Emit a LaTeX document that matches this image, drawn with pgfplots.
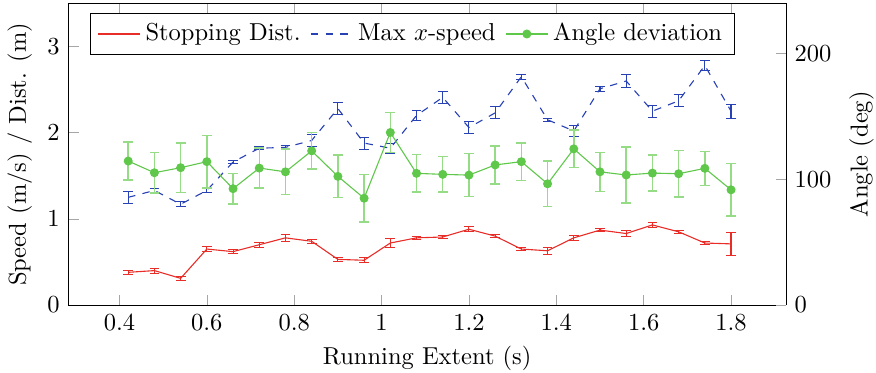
\documentclass[border=0pt]{standalone}
\usepackage{pgfplots}
\pgfplotsset{compat=1.18}
\definecolor{cred}{RGB}{232,45,40}
\definecolor{cblue}{RGB}{40,65,180}
\definecolor{cgreen}{RGB}{95,200,75}
\definecolor{cgreenl}{RGB}{150,220,135}
\begin{document}
\begin{tikzpicture}
\begin{axis}[
  scale only axis, width=292.9pt, height=123.1pt,
  xmin=0.283, xmax=1.926, ymin=0, ymax=3.5,
  axis y line*=left,
  xtick={0.4,0.6,...,1.8},
  ytick={0,1,2,3},
  xticklabels={0.4,0.6,0.8,1,1.2,1.4,1.6,1.8},
  major tick style={gray!70},
  xlabel={Running Extent (s)},
  ylabel={Speed (m/s) / Dist. (m)},
  xlabel style={at={([yshift=-24.1pt]axis description cs:0.5,0)}, anchor=base},
  ylabel style={at={([xshift=-17.3pt]axis description cs:0,0.5)}, anchor=base},
]
\coordinate (bl) at (rel axis cs:0,0);
\coordinate (tr) at (rel axis cs:1,1);
\addplot[color=cred, solid, line width=0.45pt, error bars/.cd, y dir=both, y explicit, error bar style={color=cred, line width=0.45pt}, error mark options={color=cred, rotate=90, mark size=2pt}] table[x=x,y=y,y error=e] {
x y e
0.42 0.38 0.02
0.48 0.40 0.03
0.54 0.31 0.02
0.60 0.65 0.03
0.66 0.62 0.02
0.72 0.70 0.03
0.78 0.78 0.04
0.84 0.74 0.02
0.90 0.53 0.02
0.96 0.52 0.03
1.02 0.72 0.05
1.08 0.78 0.02
1.14 0.79 0.02
1.20 0.88 0.03
1.26 0.80 0.02
1.32 0.65 0.02
1.38 0.63 0.04
1.44 0.78 0.03
1.50 0.87 0.02
1.56 0.83 0.03
1.62 0.93 0.03
1.68 0.85 0.02
1.74 0.72 0.02
1.80 0.71 0.13
};
\addplot[color=cblue, dashed, line width=0.45pt, error bars/.cd, y dir=both, y explicit, error bar style={solid, color=cblue, line width=0.45pt}, error mark options={solid, color=cblue, rotate=90, mark size=2pt}] table[x=x,y=y,y error=e] {
x y e
0.42 1.25 0.07
0.48 1.33 0.02
0.54 1.17 0.03
0.60 1.33 0.02
0.66 1.66 0.02
0.72 1.82 0.02
0.78 1.83 0.02
0.84 1.91 0.07
0.90 2.28 0.07
0.96 1.88 0.07
1.02 1.82 0.06
1.08 2.20 0.06
1.14 2.41 0.07
1.20 2.06 0.07
1.26 2.23 0.07
1.32 2.65 0.03
1.38 2.15 0.02
1.44 2.02 0.06
1.50 2.51 0.03
1.56 2.60 0.07
1.62 2.25 0.07
1.68 2.37 0.07
1.74 2.78 0.06
1.80 2.25 0.08
};
\end{axis}
\begin{axis}[
  scale only axis, width=292.9pt, height=123.1pt,
  xmin=0.283, xmax=1.926, ymin=0, ymax=240,
  axis y line*=right, axis x line=none,
  ytick={0,100,200},
  major tick style={gray!70},
  ylabel={Angle (deg)},
  ylabel style={at={([xshift=33.3pt]axis description cs:1,0.5)}, anchor=base},
  legend columns=3,
  legend style={at={(0.03,0.968)}, anchor=north west, /tikz/every even column/.append style={column sep=2pt}},
]
\addlegendimage{color=cred, solid, line width=0.45pt}
\addlegendentry{Stopping Dist.}
\addlegendimage{color=cblue, dashed, line width=0.45pt}
\addlegendentry{Max $x$-speed}
\addplot[color=cgreen, solid, line width=0.45pt, mark=*, mark size=1.6pt, mark options={fill=cgreen, draw=cgreen}, error bars/.cd, y dir=both, y explicit, error bar style={color=cgreenl, line width=0.6pt}, error mark options={color=cgreenl, rotate=90, mark size=2pt, line width=0.6pt}] table[x=x,y=y,y error=e] {
x y e
0.42 114.6 15
0.48 105.3 16
0.54 109.3 19.6
0.60 114.1 21
0.66 92.6 12
0.72 109 16
0.78 106 18
0.84 122.7 14.5
0.90 102.4 17
0.96 85 19
1.02 137.3 16
1.08 104.8 15
1.14 104 14
1.20 103.4 17
1.26 111.5 15
1.32 114.1 15
1.38 96.5 18
1.44 124.3 15
1.50 106 15.5
1.56 103.5 22.4
1.62 105 14.4
1.68 104.5 18.4
1.74 108.8 13.5
1.80 91.7 21
};
\addlegendentry{Angle deviation}
\end{axis}
\pgfresetboundingbox
\path ([xshift=-27.9pt,yshift=-27.5pt]bl) rectangle ([xshift=36.7pt,yshift=1.4pt]tr);
\end{tikzpicture}
\end{document}
